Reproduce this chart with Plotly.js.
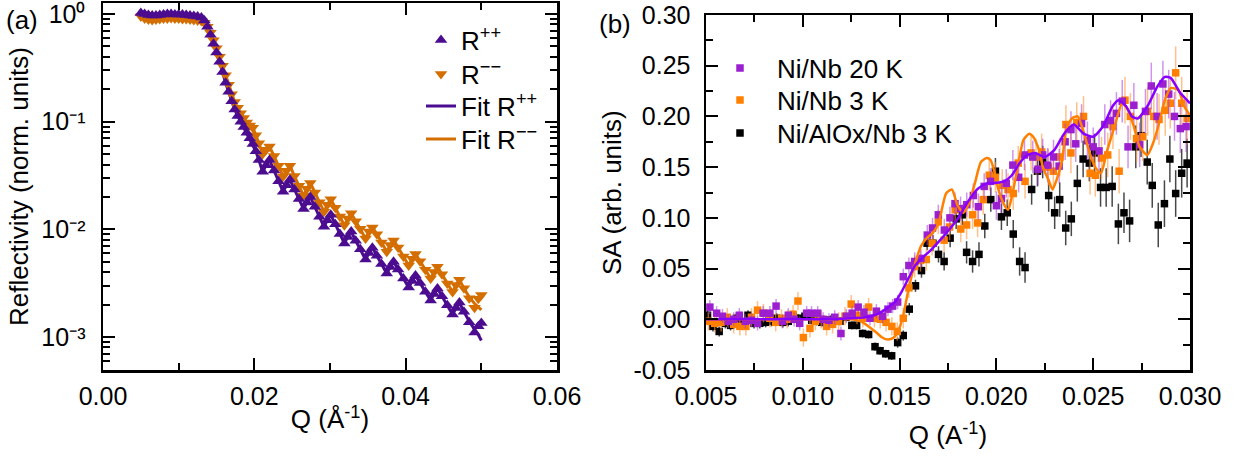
<!DOCTYPE html>
<html>
<head>
<meta charset="utf-8">
<script src="https://cdn.plot.ly/plotly-3.0.1.min.js"></script>
<style>html,body{margin:0;padding:0;background:#fff;}#chart{width:1237px;height:457px;}</style>
</head>
<body>
<div id="chart"></div>
<script>
// ---------- Panel (a): reflectivity ----------
const leftQ = [0.0050,0.0055,0.0060,0.0065,0.0070,0.0075,0.0080,0.0085,0.0090,0.0095,0.0100,0.0105,0.0110,0.0115,0.0120,0.0125,0.0130,
0.0134,0.0138,0.0142,0.0146,0.0150,0.0154,0.0158,0.0162,0.0166,0.0170,0.0174,0.0178,0.0182,0.0186,0.0190,0.0194,0.0198,0.0202,0.0206,
0.0211,0.02155,
0.0220,0.0226,0.0232,0.0238,0.02425,
0.0247,0.0253,0.0259,0.0265,0.02695,
0.0274,0.0280,0.0286,0.0292,0.02965,
0.0301,0.0307,0.0313,0.0319,0.03235,
0.0328,0.0334,0.0340,0.0347,0.03515,
0.0356,0.0362,0.0368,0.0375,0.03795,
0.0384,0.0390,0.0397,0.0404,0.04085,
0.0413,0.0419,0.0426,0.0433,0.04375,
0.0442,0.0448,0.0455,0.0462,0.04665,
0.0471,0.0477,0.0484,0.0491,0.0496,
0.0500];
const Rpp = [1.02,1.00,0.98,0.97,0.97,0.98,0.99,1.00,1.00,0.99,0.99,0.99,0.98,0.97,0.96,0.95,0.93,
0.87,0.76,0.64,0.53,0.44,0.36,0.29,0.23,0.19,0.155,0.130,0.113,0.100,0.089,0.079,0.070,0.062,0.053,0.044,
0.0342,0.0393,
0.0441,0.0352,0.0280,0.02239,0.0257,
0.02884,0.0235,0.0191,0.01549,0.01778,
0.01995,0.01618,0.01306,0.01059,0.01216,
0.01365,0.01117,0.00906,0.00741,0.00851,
0.00955,0.00783,0.00655,0.00525,0.00603,
0.00676,0.00568,0.00476,0.00389,0.00447,
0.00501,0.00425,0.0035,0.00288,0.00331,
0.00372,0.00317,0.00263,0.00219,0.00251,
0.00282,0.00239,0.00197,0.00162,0.00186,
0.00209,0.00172,0.00137,0.00110,0.00126,
0.00135];
const Rmm = [0.95,0.91,0.89,0.88,0.89,0.90,0.91,0.91,0.92,0.91,0.91,0.90,0.90,0.89,0.88,0.87,0.86,
0.83,0.76,0.67,0.57,0.48,0.40,0.33,0.27,0.22,0.18,0.152,0.135,0.120,0.108,0.098,0.092,0.088,0.075,0.063,
0.050,0.055,
0.0587,0.048,0.039,0.031,0.035,
0.0390,0.0313,0.0254,0.0206,0.0238,
0.0270,0.0220,0.0179,0.0146,0.0169,
0.0190,0.01586,0.01314,0.0109,0.0126,
0.0141,0.0119,0.01015,0.00824,0.00953,
0.0104,0.00903,0.00757,0.00619,0.00715,
0.0079,0.0068,0.0056,0.00461,0.00533,
0.0059,0.00507,0.00421,0.0035,0.00402,
0.0045,0.00382,0.00315,0.00262,0.00305,
0.0034,0.00284,0.00229,0.00187,0.00227,
0.00246];
const fitPP = [1.00,1.00,0.99,0.99,0.99,0.99,0.99,0.99,0.99,0.99,0.99,0.98,0.98,0.97,0.96,0.95,0.93,
0.87,0.76,0.64,0.53,0.44,0.36,0.29,0.23,0.19,0.155,0.130,0.113,0.100,0.089,0.079,0.070,0.062,0.053,0.044,
0.0342,0.0393,
0.0441,0.0352,0.0280,0.02239,0.0257,
0.02884,0.0235,0.0191,0.01549,0.01778,
0.01995,0.01618,0.01306,0.01059,0.01216,
0.01365,0.01117,0.00906,0.00741,0.00851,
0.00955,0.00783,0.00655,0.00525,0.00603,
0.00676,0.00568,0.00476,0.00389,0.00447,
0.00501,0.00425,0.0035,0.00288,0.00331,
0.00372,0.00317,0.00263,0.00219,0.00251,
0.00282,0.00239,0.00197,0.00162,0.00186,
0.00209,0.00172,0.00140,0.00118,0.00105,
0.00093];
const fitMM = [0.92,0.91,0.90,0.90,0.90,0.90,0.91,0.91,0.91,0.91,0.90,0.90,0.90,0.89,0.88,0.87,0.86,
0.83,0.76,0.67,0.57,0.48,0.40,0.33,0.27,0.22,0.18,0.152,0.135,0.120,0.108,0.098,0.092,0.088,0.075,0.063,
0.050,0.055,
0.0587,0.048,0.039,0.031,0.035,
0.0390,0.0313,0.0254,0.0206,0.0238,
0.0270,0.0220,0.0179,0.0146,0.0169,
0.0190,0.01586,0.01314,0.0109,0.0126,
0.0141,0.0119,0.01015,0.00824,0.00953,
0.0104,0.00903,0.00757,0.00619,0.00715,
0.0079,0.0068,0.0056,0.00461,0.00533,
0.0059,0.00507,0.00421,0.0035,0.00402,
0.0045,0.00382,0.00315,0.00262,0.00305,
0.0034,0.00284,0.00235,0.00205,0.00190,
0.00179];
const leftYTickVals = [0.001,0.01,0.1,1];
const leftYTickText = ['10⁻³','10⁻²','10⁻¹','10⁰'];

// ---------- Panel (b): spin asymmetry ----------
const purpleQ = [0.00520,0.00555,0.00585,0.00615,0.00643,0.00672,0.00703,0.00735,0.00766,0.00795,0.00830,0.00862,0.00895,0.00925,0.00955,0.00984,0.01020,0.01045,0.01077,0.01105,0.01135,0.01165,0.01197,0.01225,0.01255,0.01286,0.01316,0.01347,0.01380,0.01412,0.01440,0.01464,0.01490,0.01519,0.01548,0.01578,0.01610,0.01643,0.01670,0.01700,0.01731,0.01760,0.01786,0.01815,0.01847,0.01881,0.01907,0.01937,0.01970,0.02000,0.02026,0.02051,0.02085,0.02115,0.02145,0.02188,0.02215,0.02239,0.02265,0.02295,0.02324,0.02355,0.02385,0.02410,0.02440,0.02470,0.02500,0.02530,0.02560,0.02590,0.02620,0.02650,0.02680,0.02710,0.02740,0.02770,0.02800,0.02830,0.02860,0.02890,0.02920,0.02950,0.02980];
const purpleSA = [0.012,0.006,0.003,-0.002,0.000,0.004,-0.002,-0.001,-0.004,0.006,0.006,0.013,-0.002,0.004,0.000,-0.004,0.006,0.006,0.006,0.000,-0.001,0.002,-0.014,0.003,0.006,0.012,0.007,0.001,0.008,0.003,0.010,0.013,0.017,0.042,0.053,0.057,0.060,0.083,0.090,0.103,0.088,0.100,0.114,0.109,0.113,0.122,0.111,0.131,0.136,0.112,0.119,0.134,0.152,0.140,0.162,0.160,0.148,0.162,0.152,0.160,0.151,0.175,0.187,0.173,0.193,0.176,0.170,0.166,0.192,0.196,0.203,0.215,0.170,0.211,0.172,0.205,0.230,0.200,0.232,0.222,0.200,0.188,0.190];
const purpleErr = [0.007,0.007,0.007,0.007,0.007,0.007,0.007,0.007,0.007,0.007,0.007,0.007,0.007,0.007,0.007,0.007,0.007,0.007,0.007,0.007,0.007,0.007,0.007,0.007,0.007,0.007,0.007,0.007,0.007,0.007,0.007,0.007,0.007,0.008,0.008,0.009,0.009,0.010,0.010,0.010,0.011,0.011,0.011,0.012,0.012,0.012,0.013,0.013,0.013,0.014,0.014,0.014,0.015,0.015,0.015,0.016,0.016,0.016,0.017,0.017,0.017,0.018,0.018,0.018,0.019,0.019,0.019,0.020,0.020,0.020,0.021,0.021,0.021,0.022,0.022,0.022,0.023,0.023,0.023,0.024,0.024,0.024,0.025];

const orangeQ = [0.00512,0.00545,0.00578,0.00610,0.00643,0.00675,0.00706,0.00735,0.00766,0.00797,0.00830,0.00860,0.00890,0.00919,0.00950,0.00975,0.01003,0.01037,0.01065,0.01095,0.01123,0.01154,0.01185,0.01218,0.01250,0.01280,0.01310,0.01340,0.01370,0.01400,0.01430,0.01460,0.01488,0.01519,0.01548,0.01578,0.01608,0.01638,0.01668,0.01700,0.01730,0.01758,0.01787,0.01816,0.01846,0.01877,0.01903,0.01932,0.01963,0.01995,0.02030,0.02060,0.02087,0.02113,0.02148,0.02179,0.02205,0.02234,0.02268,0.02294,0.02328,0.02359,0.02385,0.02415,0.02450,0.02484,0.02511,0.02543,0.02575,0.02602,0.02634,0.02664,0.02692,0.02724,0.02756,0.02781,0.02813,0.02840,0.02872,0.02898,0.02926,0.02957,0.02985];
const orangeSA = [-0.002,-0.004,-0.003,0.002,-0.005,-0.007,-0.007,0.002,0.009,0.006,0.001,-0.003,0.001,0.000,0.005,0.018,-0.018,-0.009,-0.002,0.000,-0.007,-0.005,-0.002,0.003,0.015,0.004,0.001,0.012,0.001,0.000,-0.003,-0.007,-0.012,0.001,0.031,0.052,0.058,0.059,0.075,0.096,0.078,0.091,0.108,0.089,0.093,0.103,0.095,0.118,0.142,0.140,0.132,0.128,0.124,0.154,0.136,0.164,0.160,0.165,0.150,0.146,0.160,0.192,0.164,0.194,0.200,0.144,0.142,0.159,0.162,0.190,0.146,0.216,0.200,0.178,0.180,0.205,0.200,0.197,0.206,0.213,0.243,0.213,0.198];
const orangeErr = [0.009,0.009,0.009,0.009,0.009,0.009,0.009,0.009,0.009,0.009,0.009,0.009,0.009,0.009,0.009,0.009,0.009,0.009,0.009,0.009,0.009,0.009,0.009,0.009,0.009,0.009,0.009,0.009,0.009,0.009,0.009,0.009,0.009,0.010,0.010,0.011,0.011,0.011,0.012,0.012,0.012,0.013,0.013,0.013,0.014,0.014,0.014,0.015,0.015,0.015,0.016,0.016,0.016,0.017,0.017,0.017,0.018,0.018,0.018,0.019,0.019,0.019,0.020,0.020,0.020,0.021,0.021,0.021,0.022,0.022,0.022,0.023,0.023,0.023,0.024,0.024,0.024,0.025,0.025,0.025,0.026,0.026,0.026];

const blackQ = [0.00508,0.00536,0.00568,0.00600,0.00627,0.00657,0.00685,0.00717,0.00748,0.00778,0.00808,0.00838,0.00865,0.00897,0.00925,0.00950,0.00977,0.01011,0.01046,0.01072,0.01098,0.01129,0.01158,0.01192,0.01223,0.01253,0.01278,0.01309,0.01340,0.01373,0.01399,0.01428,0.01459,0.01490,0.01519,0.01550,0.01582,0.01613,0.01642,0.01672,0.01701,0.01730,0.01761,0.01792,0.01824,0.01846,0.01877,0.01910,0.01940,0.01971,0.01995,0.02026,0.02056,0.02087,0.02120,0.02148,0.02182,0.02212,0.02239,0.02270,0.02301,0.02327,0.02358,0.02387,0.02418,0.02448,0.02480,0.02507,0.02538,0.02567,0.02598,0.02630,0.02659,0.02688,0.02720,0.02747,0.02779,0.02805,0.02836,0.02868,0.02896,0.02926,0.02957,0.02985];
const blackSA = [0.004,-0.007,-0.012,-0.004,-0.006,0.001,-0.003,0.004,-0.004,-0.004,-0.003,-0.002,0.001,-0.003,-0.002,0.003,0.001,0.003,-0.001,-0.002,-0.003,-0.001,0.000,-0.002,0.002,-0.006,-0.006,-0.014,-0.015,-0.027,-0.031,-0.034,-0.036,-0.023,-0.016,0.010,0.033,0.048,0.075,0.075,0.064,0.057,0.080,0.099,0.103,0.066,0.057,0.064,0.092,0.118,0.146,0.101,0.105,0.084,0.057,0.051,0.128,0.146,0.155,0.122,0.105,0.118,0.090,0.099,0.134,0.158,0.154,0.164,0.130,0.130,0.131,0.094,0.105,0.097,0.170,0.181,0.155,0.132,0.093,0.114,0.158,0.124,0.144,0.154];
const blackErr = [0.005,0.005,0.005,0.005,0.005,0.005,0.005,0.005,0.005,0.005,0.005,0.005,0.005,0.005,0.005,0.004,0.004,0.004,0.004,0.004,0.004,0.004,0.004,0.004,0.004,0.004,0.004,0.004,0.004,0.004,0.004,0.004,0.004,0.005,0.005,0.006,0.006,0.007,0.007,0.008,0.008,0.009,0.009,0.010,0.010,0.011,0.011,0.012,0.012,0.012,0.013,0.013,0.013,0.014,0.014,0.015,0.015,0.015,0.016,0.016,0.016,0.017,0.017,0.017,0.018,0.018,0.018,0.019,0.019,0.019,0.020,0.020,0.020,0.021,0.021,0.021,0.022,0.022,0.022,0.023,0.023,0.023,0.024,0.024];

const purpleFitQ = [0.0050,0.0070,0.0090,0.0110,0.0125,0.0132,0.0137,0.0140,0.0144,0.0148,0.0151,0.0155,0.0158,0.0162,0.0166,0.0170,0.0175,0.0180,0.0185,0.0190,0.0195,0.0200,0.0204,0.0208,0.0212,0.0216,0.0220,0.0225,0.0230,0.0235,0.0240,0.0245,0.0250,0.0255,0.0260,0.0263,0.0267,0.0270,0.0273,0.0278,0.0283,0.0287,0.0290,0.0295,0.0300];
const purpleFitSA = [0.0000,0.0000,0.0000,0.0000,0.0010,0.0020,0.0040,0.0065,0.0115,0.0180,0.0270,0.0420,0.0530,0.0610,0.0680,0.0760,0.0870,0.0990,0.1150,0.1280,0.1340,0.1345,0.1360,0.1420,0.1540,0.1620,0.1640,0.1600,0.1670,0.1830,0.1920,0.1830,0.1800,0.1900,0.2100,0.2160,0.2100,0.2000,0.1980,0.2100,0.2290,0.2390,0.2380,0.2230,0.2130];
const orangeFitQ = [0.0050,0.0080,0.0110,0.0125,0.0130,0.0134,0.0138,0.0141,0.0144,0.0147,0.0150,0.0152,0.0155,0.0158,0.0161,0.0164,0.0167,0.0170,0.0174,0.0177,0.0180,0.0183,0.0186,0.0189,0.0192,0.0195,0.0197,0.0199,0.0201,0.0204,0.0206,0.0208,0.0211,0.0214,0.0217,0.0219,0.0222,0.0224,0.0227,0.0229,0.0231,0.0234,0.0236,0.0239,0.0242,0.0245,0.0248,0.0251,0.0254,0.0257,0.0261,0.0265,0.0268,0.0271,0.0274,0.0278,0.0281,0.0284,0.0287,0.0290,0.0294,0.0297,0.0300];
const orangeFitSA = [0.000,0.000,0.000,0.000,-0.002,-0.007,-0.013,-0.018,-0.020,-0.018,-0.008,0.005,0.033,0.055,0.072,0.080,0.085,0.094,0.124,0.128,0.112,0.105,0.115,0.135,0.155,0.159,0.157,0.145,0.128,0.113,0.108,0.121,0.150,0.177,0.183,0.180,0.167,0.150,0.137,0.128,0.137,0.157,0.187,0.198,0.200,0.185,0.165,0.150,0.144,0.165,0.190,0.213,0.206,0.190,0.170,0.162,0.174,0.193,0.216,0.228,0.226,0.210,0.201];
const rightYTickVals = [-0.05,0,0.05,0.10,0.15,0.20,0.25,0.30];
const rightYTickText = ['-0.05','0.00','0.05','0.10','0.15','0.20','0.25','0.30'];

// ---------- styling ----------
const FONT = 'Liberation Sans, Arial, sans-serif';
const FT = 25;   // tick labels
const FL = 26;   // titles, legends, panel labels
const W = 1237, H = 457;
const cPP = '#4B0C8F', cMM = '#D46E00';
const cPur = '#9B1FCF', cPurLine = '#8A00FF', cOra = '#FF8000', cBlk = '#000000';

const traces = [
  {x:leftQ, y:fitPP, xaxis:'x', yaxis:'y', mode:'lines', name:'Fit R<sup>++</sup>', line:{color:cPP, width:3}, legend:'legend4'},
  {x:leftQ, y:fitMM, xaxis:'x', yaxis:'y', mode:'lines', name:'Fit R<sup>−−</sup>', line:{color:cMM, width:3}, legend:'legend5'},
  {x:leftQ, y:Rmm, xaxis:'x', yaxis:'y', mode:'markers', name:'R<sup>−−</sup>', marker:{symbol:'triangle-down', size:11, color:cMM}, legend:'legend3'},
  {x:leftQ, y:Rpp, xaxis:'x', yaxis:'y', mode:'markers', name:'R<sup>++</sup>', marker:{symbol:'triangle-up', size:11, color:cPP}, legend:'legend'},

  {x:blackQ, y:blackSA, xaxis:'x2', yaxis:'y2', mode:'markers', name:'Ni/AlOx/Nb 3 K', marker:{symbol:'square', size:7.5, color:cBlk},
   error_y:{type:'data', array:blackErr, color:'rgba(40,40,40,0.85)', thickness:1.5, width:0}, legend:'legend7'},
  {x:orangeQ, y:orangeSA, xaxis:'x2', yaxis:'y2', mode:'markers', name:'Ni/Nb 3 K', marker:{symbol:'square', size:7.5, color:cOra},
   error_y:{type:'data', array:orangeErr, color:'rgba(255,150,60,0.6)', thickness:1.5, width:0}, legend:'legend6'},
  {x:purpleQ, y:purpleSA, xaxis:'x2', yaxis:'y2', mode:'markers', name:'Ni/Nb 20 K', marker:{symbol:'square', size:7.5, color:cPur},
   error_y:{type:'data', array:purpleErr, color:'rgba(170,60,220,0.55)', thickness:1.5, width:0}, legend:'legend2'},
  {x:orangeFitQ, y:orangeFitSA, xaxis:'x2', yaxis:'y2', mode:'lines', line:{color:cOra, width:2.5, shape:'spline', smoothing:0.6}, showlegend:false},
  {x:purpleFitQ, y:purpleFitSA, xaxis:'x2', yaxis:'y2', mode:'lines', line:{color:cPurLine, width:2.5, shape:'spline', smoothing:0.6}, showlegend:false}
];

const axBase = {
  showline:true, linecolor:'#000', linewidth:2.5, mirror:'allticks',
  ticks:'inside', ticklen:12, tickwidth:2, tickcolor:'#000',
  showgrid:false, zeroline:false, automargin:false,
  tickfont:{family:FONT, size:FT, color:'#000'},
  ticklabeloverflow:'allow'
};

function leg(xpx, ypx, iw){
  return {x:xpx/W, y:(H-ypx)/H, xanchor:'left', yanchor:'middle', bgcolor:'rgba(0,0,0,0)', borderwidth:0,
          font:{family:FONT, size:FL, color:'#000'}, itemwidth:iw};
}

const layout = {
  width:W, height:H,
  margin:{l:0, r:0, t:0, b:0},
  paper_bgcolor:'#fff', plot_bgcolor:'#fff',
  font:{family:FONT, size:FL, color:'#000'},
  xaxis: Object.assign({}, axBase, {
    domain:[103/W, 557/W], anchor:'y', range:[0,0.06], tick0:0, dtick:0.02, tickformat:'.2f', ticklabelstandoff:2,
    minor:{dtick:0.01, ticks:'inside', ticklen:7, tickwidth:2, tickcolor:'#000'},
    title:{text:'Q (Å<sup>-1</sup>)', font:{family:FONT, size:FL}, standoff:2}
  }),
  yaxis: Object.assign({}, axBase, {
    domain:[87/H, 454/H], anchor:'x', type:'log', range:[-3.306, 0.102], ticklabelstandoff:10,
    tickmode:'array', tickvals:leftYTickVals, ticktext:leftYTickText,
    minor:{tickmode:'array', tickvals:[0.0005,0.0006,0.0007,0.0008,0.0009,0.002,0.003,0.004,0.005,0.006,0.007,0.008,0.009,0.02,0.03,0.04,0.05,0.06,0.07,0.08,0.09,0.2,0.3,0.4,0.5,0.6,0.7,0.8,0.9], ticks:'inside', ticklen:7, tickwidth:2, tickcolor:'#000'}
  }),
  xaxis2: Object.assign({}, axBase, {
    domain:[706/W, 1190/W], anchor:'y2', range:[0.005,0.030], tick0:0.005, dtick:0.005, tickformat:'.3f', ticklabelstandoff:2,
    minor:{dtick:0.0025, ticks:'inside', ticklen:7, tickwidth:2, tickcolor:'#000'},
    title:{text:'Q (A<sup>-1</sup>)', font:{family:FONT, size:FL}, standoff:18}
  }),
  yaxis2: Object.assign({}, axBase, {
    domain:[87/H, 442/H], anchor:'x2', range:[-0.05,0.30], ticklabelstandoff:8,
    tickmode:'array', tickvals:rightYTickVals, ticktext:rightYTickText,
    minor:{tick0:0, dtick:0.025, ticks:'inside', ticklen:7, tickwidth:2, tickcolor:'#000'}
  }),
  legend:  leg(421, 40, 30),
  legend3: leg(421, 74, 30),
  legend4: leg(421, 106, 30),
  legend5: leg(421, 139, 30),
  legend2: leg(703, 68, 64),
  legend6: leg(703, 100, 64),
  legend7: leg(703, 133, 64),
  annotations:[
    {text:'(a)', xref:'paper', yref:'paper', x:22/W, y:(H-20)/H, xanchor:'center', yanchor:'middle', showarrow:false, font:{family:FONT, size:FL, color:'#000'}},
    {text:'(b)', xref:'paper', yref:'paper', x:615/W, y:(H-24)/H, xanchor:'center', yanchor:'middle', showarrow:false, font:{family:FONT, size:FL, color:'#000'}},
    {text:'Reflectivity (norm. units)', xref:'paper', yref:'paper', x:19/W, y:(H-187)/H, xanchor:'center', yanchor:'middle', textangle:-90, showarrow:false, font:{family:FONT, size:FL, color:'#000'}},
    {text:'SA (arb. units)', xref:'paper', yref:'paper', x:612/W, y:(H-193)/H, xanchor:'center', yanchor:'middle', textangle:-90, showarrow:false, font:{family:FONT, size:FL, color:'#000'}}
  ]
};

Plotly.newPlot('chart', traces, layout, {staticPlot:true, displayModeBar:false});
</script>
</body>
</html>
